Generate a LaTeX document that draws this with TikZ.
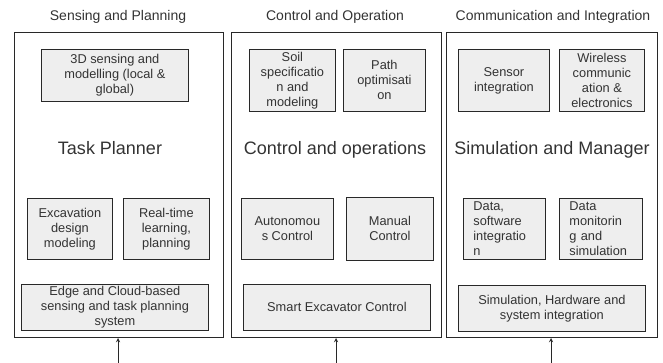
\documentclass[tikz,border=0pt]{standalone}
\usepackage{fontspec}
\setmainfont{Liberation Sans}
\usepackage{xcolor}
\usepackage{tikz}
\usetikzlibrary{arrows, positioning}
\definecolor{ink}{RGB}{51,51,51}
\definecolor{boxgray}{RGB}{238,238,238}
\definecolor{edge}{RGB}{40,40,40}
\newcommand{\boxfont}{\fontsize{12.8}{15}\selectfont}
\newcommand{\paneltitlefont}{\fontsize{14}{16}\selectfont}
\newcommand{\centretitlefont}{\fontsize{18}{21}\selectfont}

\begin{document}
\begin{tikzpicture}[
    x=1pt, y=-1pt,
    panel/.style={rectangle, draw=edge, line width=1pt, anchor=north west, inner sep=0pt},
    box/.style={rectangle, draw=edge, line width=0.8pt, fill=boxgray, anchor=north west, align=center, font=\boxfont, text=ink, inner sep=1pt},
    leftbox/.style={box, align=left, inner xsep=10pt},
    paneltitle/.style={anchor=base, font=\paneltitlefont, text=ink, inner sep=0pt},
    centretitle/.style={anchor=base, font=\centretitlefont, text=ink, inner sep=0pt},
    arrow/.style={->, >=stealth, line width=0.9pt, draw=edge}
]
\useasboundingbox (0,0) rectangle (663,363);

% Panel 1: Sensing and Planning
\node[panel, minimum width=209.5pt, minimum height=305pt] (p1) at (13.5,32) {};
\node[paneltitle] (t1) at (118,21) {Sensing and Planning};
\node[box, minimum width=147pt, minimum height=52pt] (sensing) at (41,49) {3D sensing and\\modelling (local \&\\global)};
\node[centretitle] (planner) at (110,154.5) {Task Planner};
\node[box, minimum width=85pt, minimum height=61pt] (design) at (27,198) {Excavation\\design\\modeling};
\node[box, minimum width=86pt, minimum height=61pt] (learning) at (123,198) {Real-time\\learning,\\planning};
\node[box, minimum width=187pt, minimum height=46pt] (cloud) at (21,284) {Edge and Cloud-based\\sensing and task planning\\system};

% Panel 2: Control and Operation
\node[panel, minimum width=210pt, minimum height=305pt] (p2) at (231,32) {};
\node[paneltitle] (t2) at (335,21) {Control and Operation};
\node[box, minimum width=86pt, minimum height=62pt] (soil) at (249,49) {Soil\\specificatio\\n and\\modeling};
\node[box, minimum width=82pt, minimum height=62pt] (path) at (343,49) {Path\\optimisati\\on};
\node[centretitle] (operations) at (335,154.5) {Control and operations};
\node[box, minimum width=92pt, minimum height=61pt] (auto) at (241,198) {Autonomou\\s Control};
\node[box, minimum width=87pt, minimum height=63pt] (manual) at (346,197) {Manual\\Control};
\node[box, minimum width=187pt, minimum height=46pt] (smart) at (243,284) {Smart Excavator Control};

% Panel 3: Communication and Integration
\node[panel, minimum width=211pt, minimum height=305pt] (p3) at (445.5,32) {};
\node[paneltitle] (t3) at (553,21) {Communication and Integration};
\node[box, minimum width=91pt, minimum height=62pt] (sensor) at (458,49) {Sensor\\integration};
\node[box, minimum width=85pt, minimum height=62pt] (wireless) at (559,49) {Wireless\\communic\\ation \&\\electronics};
\node[centretitle] (manager) at (552,154.5) {Simulation and Manager};
\node[leftbox, text width=62pt, minimum height=61pt] (software) at (463,198) {Data,\\software\\integratio\\n};
\node[leftbox, text width=63pt, minimum height=61pt] (monitor) at (559,198) {Data\\monitorin\\g and\\simulation};
\node[box, minimum width=187pt, minimum height=46pt] (hardware) at (458,285) {Simulation, Hardware and\\system integration};

% Inputs from below
\coordinate (in1) at (118,363);
\coordinate (in2) at (336,363);
\coordinate (in3) at (551,363);
\draw[arrow] (in1) -- (in1 |- p1.south);
\draw[arrow] (in2) -- (in2 |- p2.south);
\draw[arrow] (in3) -- (in3 |- p3.south);

\end{tikzpicture}
\end{document}
